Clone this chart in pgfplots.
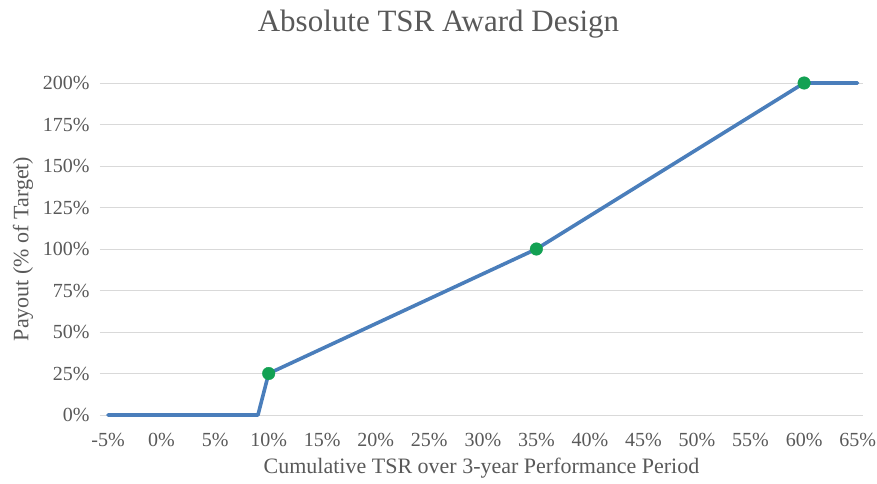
\documentclass[border=0pt]{standalone}
\usepackage{fontspec}
\setmainfont{Liberation Serif}
\usepackage{pgfplots}
\pgfplotsset{compat=1.18}
\definecolor{txt}{HTML}{595959}
\definecolor{gridc}{HTML}{D9D9D9}
\definecolor{linec}{HTML}{4A7EBB}
\definecolor{mk}{HTML}{13A153}
\begin{document}
\begin{tikzpicture}
\begin{axis}[
  scale only axis, width=763pt, height=332pt,
  xmin=-5.75, xmax=65.5, ymin=0, ymax=200,
  clip=false,
  axis line style={draw=none},
  major tick length=0pt,
  ymajorgrids, grid style={draw=gridc, line width=1pt},
  xtick={-5,0,5,10,15,20,25,30,35,40,45,50,55,60,65},
  xticklabels={-5\%,0\%,5\%,10\%,15\%,20\%,25\%,30\%,35\%,40\%,45\%,50\%,55\%,60\%,65\%},
  ytick={0,25,50,75,100,125,150,175,200},
  yticklabels={0\%,25\%,50\%,75\%,100\%,125\%,150\%,175\%,200\%},
  ticklabel style={font=\fontsize{20}{24}\selectfont, text=txt},
  xticklabel style={anchor=center, yshift=-25pt},
  yticklabel style={anchor=east, xshift=-7pt},
  title={Absolute TSR Award Design},
  title style={at={(axis description cs:0.4437,1.16)}, anchor=center, font=\fontsize{31}{36}\selectfont, text=txt},
  xlabel={Cumulative TSR over 3-year Performance Period},
  xlabel style={at={(axis description cs:0.5,0)}, anchor=center, yshift=-53pt, font=\fontsize{22}{26}\selectfont, text=txt},
  ylabel={Payout (\% of Target)},
  ylabel style={at={(axis description cs:-0.101,0.5)}, anchor=center, font=\fontsize{22}{26}\selectfont, text=txt},
]
\addplot[linec, line width=3.6pt, line join=round, line cap=round] coordinates {
  (-5,0) (9,0) (10,25) (35,100) (60,200) (65,200)
};
\addplot[only marks, mark=*, mark size=6.3pt, mark options={fill=mk, draw=mk}] coordinates {
  (10,25) (35,100) (60,200)
};
\coordinate (SW) at (rel axis cs:0,0);
\end{axis}
\pgfresetboundingbox
\path[use as bounding box] ([shift={(-100pt,-68pt)}]SW) rectangle ++(877pt,483pt);
\end{tikzpicture}
\end{document}
